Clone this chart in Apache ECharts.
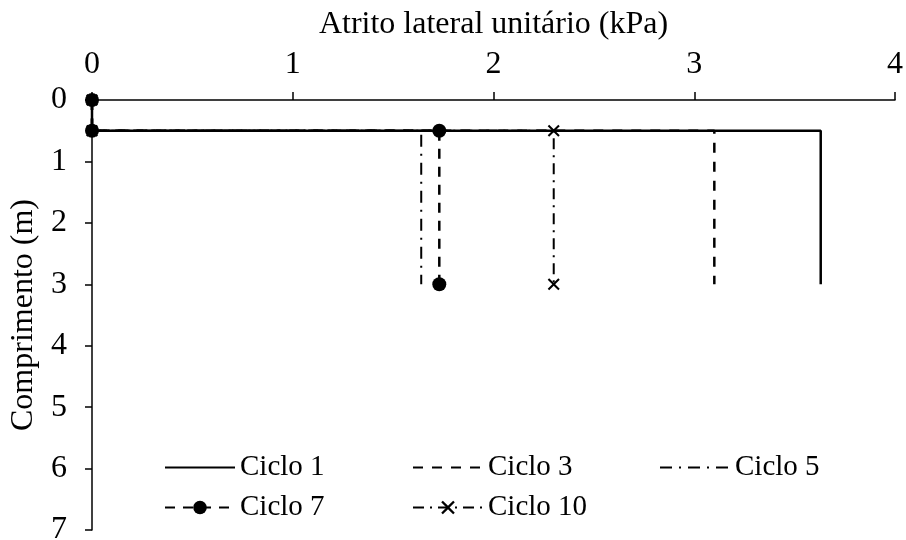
<!DOCTYPE html>
<html>
<head>
<meta charset="utf-8">
<script src="https://cdn.jsdelivr.net/npm/echarts@6/dist/echarts.min.js"></script>
<style>
  html, body { margin: 0; padding: 0; background: #fff; }
  #chart { width: 906px; height: 540px; }
</style>
</head>
<body>
<div id="chart"></div>
<script>
// Depth profile points (m) shared by every cycle
const depth = [0, 0.5, 0.5, 3];
// Unit side friction (kPa) at each depth point, per cycle
const ciclo1 = [0, 0, 3.63, 3.63];
const ciclo3 = [0, 0, 3.10, 3.10];
const ciclo5 = [0, 0, 1.64, 1.64];
const ciclo7 = [0, 0, 1.73, 1.73];
const ciclo10 = [0, 0, 2.30, 2.30];
const seriesNames = ['Ciclo 1', 'Ciclo 3', 'Ciclo 5', 'Ciclo 7', 'Ciclo 10'];
const xTicks = [0, 1, 2, 3, 4];
const yTicks = [0, 1, 2, 3, 4, 5, 6, 7];

const FONT = '"Liberation Serif", "Times New Roman", serif';
const FS = 32;      // axis labels and names
const FS_LEG = 29;  // legend entries
const pairs = vals => vals.map((v, i) => [v, depth[i]]);
const crossPath = 'path://M0,1.2L1.2,0L5,3.8L8.8,0L10,1.2L6.2,5L10,8.8L8.8,10L5,6.2L1.2,10L0,8.8L3.8,5Z';
// plain-line series keep a transparent marker so the legend shows only the stroke
const hiddenMark = { color: 'transparent', borderWidth: 0 };

const chart = echarts.init(document.getElementById('chart'), null, { renderer: 'canvas' });

function legendAt(name, left, top) {
  return {
    data: [name], left: left, top: top, padding: 0,
    itemWidth: 70, itemHeight: 17, itemGap: 4,
    textStyle: { fontFamily: FONT, fontSize: FS_LEG, color: '#000' },
    inactiveColor: '#000', selectedMode: false
  };
}

chart.setOption({
  animation: false,
  backgroundColor: '#fff',
  grid: { left: 92, right: 11, top: 100, bottom: 10, containLabel: false, outerBoundsMode: 'none' },
  legend: [
    legendAt(seriesNames[0], 164, 453),
    legendAt(seriesNames[1], 412, 453),
    legendAt(seriesNames[2], 659, 453),
    legendAt(seriesNames[3], 164, 493),
    legendAt(seriesNames[4], 412, 493)
  ],
  xAxis: {
    type: 'value', position: 'top',
    min: xTicks[0], max: xTicks[xTicks.length - 1], interval: 1,
    name: 'Atrito lateral unitário (kPa)', nameLocation: 'middle', nameGap: 59,
    nameTextStyle: { fontFamily: FONT, fontSize: FS, color: '#000' },
    axisLine: { show: true, lineStyle: { color: '#000', width: 1.5 } },
    axisTick: { show: true, inside: false, length: 8, lineStyle: { color: '#000', width: 1.5 } },
    axisLabel: { fontFamily: FONT, fontSize: FS, color: '#000', margin: 19 },
    splitLine: { show: false }
  },
  yAxis: {
    type: 'value', inverse: true,
    min: yTicks[0], max: yTicks[yTicks.length - 1], interval: 1,
    name: 'Comprimento (m)', nameLocation: 'middle', nameGap: 52,
    nameTextStyle: { fontFamily: FONT, fontSize: FS, color: '#000' },
    axisLine: { show: true, onZero: false, lineStyle: { color: '#000', width: 1.5 } },
    axisTick: { show: true, inside: false, length: 7, lineStyle: { color: '#000', width: 1.5 } },
    axisLabel: { fontFamily: FONT, fontSize: FS, color: '#000', margin: 25 },
    splitLine: { show: false }
  },
  series: [
    {
      name: seriesNames[0], type: 'line', data: pairs(ciclo1), z: 2,
      symbol: 'circle', showSymbol: false, itemStyle: hiddenMark,
      lineStyle: { color: '#000', width: 2.5, type: 'solid' }
    },
    {
      name: seriesNames[1], type: 'line', data: pairs(ciclo3), z: 3,
      symbol: 'circle', showSymbol: false, itemStyle: hiddenMark,
      lineStyle: { color: '#000', width: 2.5, type: [10, 9] }
    },
    {
      name: seriesNames[2], type: 'line', data: pairs(ciclo5), z: 4,
      symbol: 'circle', showSymbol: false, itemStyle: hiddenMark,
      lineStyle: { color: '#000', width: 2, type: [12, 7, 2, 7] }
    },
    {
      name: seriesNames[4], type: 'line', data: pairs(ciclo10), z: 5,
      symbol: crossPath, symbolSize: 12, showSymbol: true,
      itemStyle: { color: '#000' },
      lineStyle: { color: '#000', width: 2, type: [11, 6, 2, 6] }
    },
    {
      name: seriesNames[3], type: 'line', data: pairs(ciclo7), z: 6,
      symbol: 'circle', symbolSize: 14, showSymbol: true,
      itemStyle: { color: '#000' },
      lineStyle: { color: '#000', width: 2.5, type: [10, 8] }
    }
  ]
});
</script>
</body>
</html>
